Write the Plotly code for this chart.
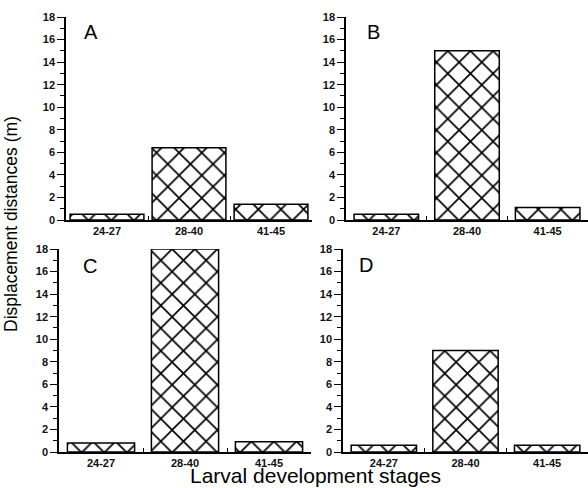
import plotly.graph_objects as go

stages = ["24-27", "28-40", "41-45"]
panel_A = [0.5, 6.4, 1.4]
panel_B = [0.5, 15.0, 1.1]
panel_C = [0.8, 18.0, 0.9]
panel_D = [0.6, 9.0, 0.6]
panel_labels = ["A", "B", "C", "D"]
y_ticks = [0, 2, 4, 6, 8, 10, 12, 14, 16, 18]

W, H = 588, 488
FONT = "Liberation Sans, Arial, sans-serif"

# panel geometry in pixels: (x0, x1, ytop, ybottom, bar width fraction)
geom = [
    (66, 312, 17, 220, 0.9),
    (346, 588, 17, 220, 0.8),
    (59, 311, 249, 452, 0.8),
    (343, 588, 249, 452, 0.8),
]
label_pos = [(91, 32), (373, 32), (90, 266), (366, 265)]
data = [panel_A, panel_B, panel_C, panel_D]

fig = go.Figure()
layout = dict(
    width=W, height=H,
    template="none",
    margin=dict(l=0, r=0, t=0, b=0, pad=0, autoexpand=False),
    paper_bgcolor="white", plot_bgcolor="white",
    showlegend=False,
    font=dict(family=FONT, color="black", size=10),
)

tick_font = dict(size=11, family=FONT, color="#111", weight="bold")

for i, (vals, (x0, x1, yt, yb, bw)) in enumerate(zip(data, geom)):
    n = "" if i == 0 else str(i + 1)
    fig.add_trace(go.Bar(
        x=stages, y=vals, width=[bw] * len(stages),
        xaxis="x" + n, yaxis="y" + n,
        marker=dict(
            color="white",
            line=dict(color="black", width=1.5),
            pattern=dict(shape="x", size=16, solidity=0.2,
                         fgcolor="black", bgcolor="white", fgopacity=1),
        ),
        hoverinfo="skip",
    ))
    layout["xaxis" + n] = dict(
        domain=[x0 / W, x1 / W], anchor="y" + n,
        type="category", range=[-0.5, 2.5], automargin=False,
        showline=True, linecolor="black", linewidth=1.5,
        ticks="inside", ticklen=4, tickwidth=1.3, tickcolor="black",
        tickson="boundaries", showgrid=False, zeroline=False,
        tickfont=tick_font,
    )
    layout["yaxis" + n] = dict(
        domain=[1 - yb / H, 1 - yt / H], anchor="x" + n,
        range=[0, 18], tickvals=y_ticks, automargin=False,
        showline=True, linecolor="black", linewidth=1.5,
        ticks="outside", ticklen=7, tickwidth=1.3, tickcolor="black",
        minor=dict(dtick=1, ticks="outside", ticklen=4, tickwidth=1.1, tickcolor="black"),
        showgrid=False, zeroline=False,
        tickfont=tick_font,
    )

annotations = []
for lab, (px, py) in zip(panel_labels, label_pos):
    annotations.append(dict(
        text=lab, x=px / W, y=1 - py / H, xref="paper", yref="paper",
        showarrow=False, xanchor="center", yanchor="middle",
        font=dict(size=20, family=FONT, color="black"),
    ))
annotations.append(dict(
    text="Displacement distances (m)", x=11 / W, y=1 - 224 / H,
    xref="paper", yref="paper", showarrow=False, textangle=-90,
    xanchor="center", yanchor="middle",
    font=dict(size=17.5, family=FONT, color="black"),
))
annotations.append(dict(
    text="Larval development stages", x=315 / W, y=1 - 475.5 / H,
    xref="paper", yref="paper", showarrow=False,
    xanchor="center", yanchor="middle",
    font=dict(size=21, family=FONT, color="black"),
))
layout["annotations"] = annotations

fig.update_layout(**layout)
fig.write_html(
    "out.html",
    config={"displayModeBar": False},
    post_script="document.body.style.margin='0px';document.body.style.overflow='hidden';",
)
